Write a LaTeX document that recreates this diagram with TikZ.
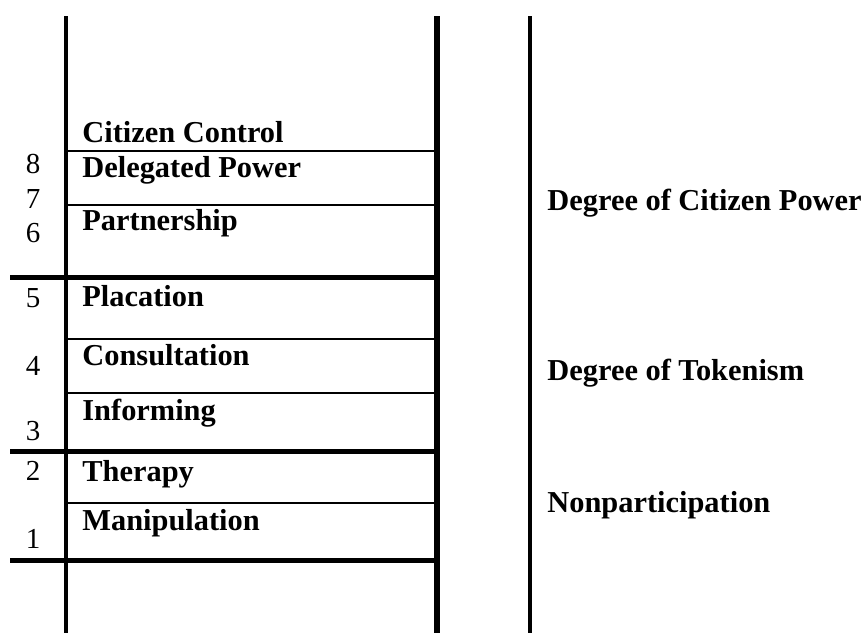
\documentclass[tikz,border=0pt]{standalone}
\usepackage{fontspec}
\setmainfont{Liberation Serif}
\usetikzlibrary{positioning}

\tikzset{
  rail/.style={line width=2pt},
  mainrail/.style={line width=3pt},
  rung/.style={line width=1pt},
  bigrung/.style={line width=2.5pt},
  rungtext/.style={anchor=base west, inner sep=0pt, font=\fontsize{15.2}{18}\selectfont\bfseries},
  rungnum/.style={anchor=base, inner sep=0pt, font=\fontsize{14.5}{17}\selectfont},
  grouptext/.style={anchor=base west, inner sep=0pt, font=\fontsize{15.2}{18}\selectfont\bfseries}
}

\begin{document}
\begin{tikzpicture}[x=0.5pt,y=-0.5pt]
\useasboundingbox (0,0) rectangle (861,633);

% the three uprights
\draw[rail] (66,16) -- (66,633);
\draw[mainrail] (437,16) -- (437,633);
\draw[rail] (530,16) -- (530,633);

% thin rungs inside each group
\foreach \y in {151,205,339,393,503}
  \draw[rung] (66,\y) -- (437,\y);
% heavy rungs between the groups
\foreach \y in {277,451,560}
  \draw[bigrung] (10,\y) -- (437,\y);

% rung names
\node[rungtext] (control)  at (82,142) {Citizen Control};
\node[rungtext] (delegate) at (82,177) {Delegated Power};
\node[rungtext] (partner)  at (82,230) {Partnership};
\node[rungtext] (placate)  at (82,306) {Placation};
\node[rungtext] (consult)  at (82,365) {Consultation};
\node[rungtext] (inform)   at (82,420) {Informing};
\node[rungtext] (therapy)  at (82,481) {Therapy};
\node[rungtext] (manip)    at (82,530) {Manipulation};

% rung numbers
\node[rungnum] (n8) at (33,173) {8};
\node[rungnum] (n7) at (33,208) {7};
\node[rungnum] (n6) at (33,242) {6};
\node[rungnum] (n5) at (33,307) {5};
\node[rungnum] (n4) at (33,375) {4};
\node[rungnum] (n3) at (33,440) {3};
\node[rungnum] (n2) at (33,480) {2};
\node[rungnum] (n1) at (33,548) {1};

% groups on the right
\node[grouptext] (power)  at (547,210) {Degree of Citizen Power};
\node[grouptext] (token)  at (547,380) {Degree of Tokenism};
\node[grouptext] (nonpar) at (547,512) {Nonparticipation};
\end{tikzpicture}
\end{document}
